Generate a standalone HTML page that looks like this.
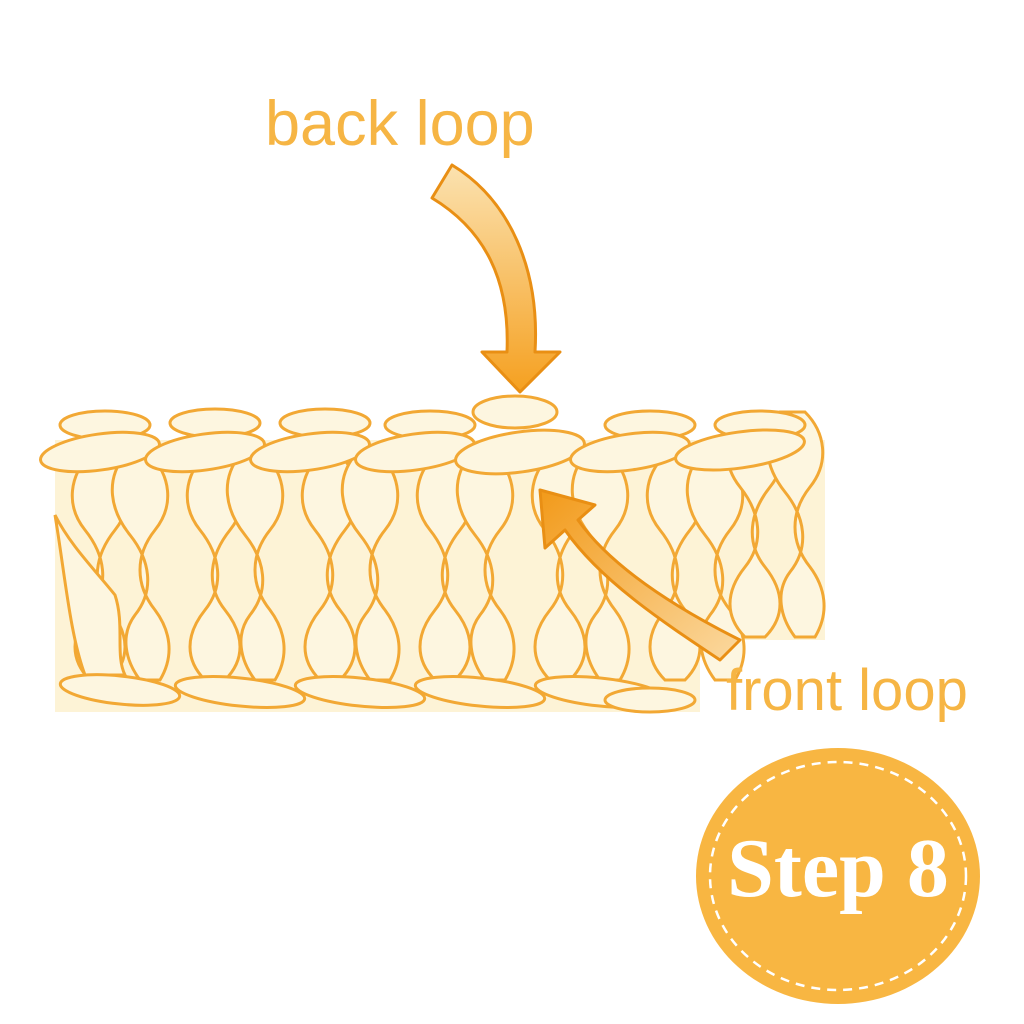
<!DOCTYPE html>
<html><head><meta charset="utf-8"><style>
html,body{margin:0;padding:0;background:#fff;}
svg{display:block}
</style></head><body>
<svg width="1024" height="1024" viewBox="0 0 1024 1024" xmlns="http://www.w3.org/2000/svg">
<defs>
<linearGradient id="ag" x1="0" y1="0" x2="0" y2="1">
<stop offset="0" stop-color="#fbe2b0"/><stop offset="1" stop-color="#f5a020"/>
</linearGradient>
<linearGradient id="fg" x1="1" y1="1" x2="0" y2="0">
<stop offset="0" stop-color="#fbd9a0"/><stop offset="1" stop-color="#f29a1a"/>
</linearGradient>
<g id="col">
<path fill="#fdf6e0" stroke="#f2a834" stroke-width="3" d="M0,0 c-20,20 -25,50 -5,75 c20,25 25,55 5,80 c-20,25 -20,50 0,70 l20,0 c20,-20 20,-45 0,-70 c-20,-25 -15,-55 5,-80 c20,-25 15,-55 -5,-75z"/>
<path fill="#fdf6e0" stroke="#f2a834" stroke-width="3" d="M35,0 c-20,25 -15,55 5,80 c20,25 25,55 5,80 c-15,20 -10,45 5,65 l20,0 c15,-25 10,-50 -5,-70 c-20,-25 -20,-55 0,-80 c20,-25 15,-55 -5,-75z"/>
</g>
</defs>
<rect width="1024" height="1024" fill="#fff"/>
<text x="265" y="145" font-family="Liberation Sans, sans-serif" font-size="63" fill="#f6b544">back loop</text>

<path d="M55,440 L825,440 L825,640 L700,640 L700,712 L55,712 Z" fill="#fdf3d6"/>
<use href="#col" x="90" y="455"/><use href="#col" x="205" y="455"/><use href="#col" x="320" y="455"/>
<use href="#col" x="435" y="455"/><use href="#col" x="550" y="455"/><use href="#col" x="665" y="455"/>
<use href="#col" x="745" y="412"/>
<path fill="#fdf6e0" stroke="#f2a834" stroke-width="3" d="M55,515 c15,30 40,55 60,80 c10,30 0,60 10,80 l-40,0 c-15,-40 -20,-100 -30,-160z"/>
<g fill="#fdf6e0" stroke="#f2a834" stroke-width="3">
<ellipse cx="515" cy="412" rx="42" ry="16"/>
<ellipse cx="105" cy="425" rx="45" ry="14"/><ellipse cx="215" cy="423" rx="45" ry="14"/>
<ellipse cx="325" cy="423" rx="45" ry="14"/><ellipse cx="430" cy="425" rx="45" ry="14"/>
<ellipse cx="650" cy="425" rx="45" ry="14"/><ellipse cx="760" cy="425" rx="45" ry="14"/>
<ellipse cx="100" cy="452" rx="60" ry="18" transform="rotate(-8 100 452)"/>
<ellipse cx="205" cy="452" rx="60" ry="18" transform="rotate(-8 205 452)"/>
<ellipse cx="310" cy="452" rx="60" ry="18" transform="rotate(-8 310 452)"/>
<ellipse cx="415" cy="452" rx="60" ry="18" transform="rotate(-8 415 452)"/>
<ellipse cx="520" cy="452" rx="65" ry="20" transform="rotate(-8 520 452)"/>
<ellipse cx="630" cy="452" rx="60" ry="18" transform="rotate(-8 630 452)"/>
<ellipse cx="740" cy="450" rx="65" ry="18" transform="rotate(-8 740 450)"/>
<ellipse cx="120" cy="690" rx="60" ry="14" transform="rotate(6 120 690)"/>
<ellipse cx="240" cy="692" rx="65" ry="14" transform="rotate(6 240 692)"/>
<ellipse cx="360" cy="692" rx="65" ry="14" transform="rotate(6 360 692)"/>
<ellipse cx="480" cy="692" rx="65" ry="14" transform="rotate(6 480 692)"/>
<ellipse cx="600" cy="692" rx="65" ry="14" transform="rotate(6 600 692)"/>
<ellipse cx="650" cy="700" rx="45" ry="12"/>
</g>

<path d="M432,198 L452,165 C510,200 540,270 535,352 L560,352 L520,392 L482,352 L507,352 C510,280 485,230 432,198 Z" fill="url(#ag)" stroke="#e98f14" stroke-width="3" stroke-linejoin="round"/>
<path d="M740,640 L720,660 C660,620 600,580 565,530 L545,548 L540,490 L595,505 L578,520 C610,565 670,605 740,640 Z" fill="url(#fg)" stroke="#e98f14" stroke-width="3" stroke-linejoin="round"/>

<text x="726" y="710" font-family="Liberation Sans, sans-serif" font-size="58" fill="#f6b544">front loop</text>

<ellipse cx="838" cy="876" rx="142" ry="128" fill="#f8b642"/>
<ellipse cx="838" cy="876" rx="128" ry="114" fill="none" stroke="#fff" stroke-width="2.5" stroke-dasharray="9 7"/>
<text x="838" y="896" text-anchor="middle" font-family="Liberation Serif, serif" font-weight="bold" font-size="84" fill="#fff">Step 8</text>
</svg>
</body></html>
